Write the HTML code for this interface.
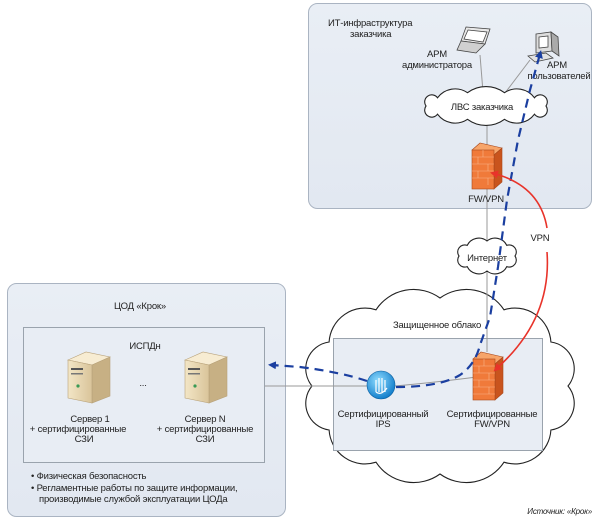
<!DOCTYPE html>
<html><head><meta charset="utf-8"><style>
html,body{margin:0;padding:0;background:#fff}
svg{display:block}
text{font-family:"Liberation Sans Narrow","Liberation Sans",sans-serif;font-size:9.5px;letter-spacing:-0.2px;fill:#222}
</style></head><body>
<svg width="600" height="522" viewBox="0 0 600 522" xmlns="http://www.w3.org/2000/svg">
<defs>
<linearGradient id="bg" x1="0" y1="0" x2="0" y2="1"><stop offset="0" stop-color="#e9eef5"/><stop offset="1" stop-color="#e2e8f1"/></linearGradient>
<linearGradient id="srv" x1="0" y1="0" x2="1" y2="0"><stop offset="0" stop-color="#f3e6c6"/><stop offset="1" stop-color="#d9c49a"/></linearGradient>
<radialGradient id="ips" cx="0.4" cy="0.35" r="0.7"><stop offset="0" stop-color="#8fdcff"/><stop offset="1" stop-color="#0a78c8"/></radialGradient>
<marker id="ab" markerWidth="8" markerHeight="8" refX="4" refY="4" orient="auto" markerUnits="userSpaceOnUse"><path d="M0,0 L8,4 L0,8 Z" fill="#1b3fa0"/></marker>
<marker id="ar" markerWidth="8" markerHeight="8" refX="6" refY="4" orient="auto" markerUnits="userSpaceOnUse"><path d="M0,0 L8,4 L0,8 Z" fill="#e8332a"/></marker>
</defs>

<rect x="308.5" y="3.5" width="283" height="205" rx="9" fill="url(#bg)" stroke="#aab4c2"/>
<text x="328" y="26">ИТ-инфраструктура</text>
<text x="350" y="37">заказчика</text>

<rect x="7.5" y="283.5" width="278" height="233" rx="9" fill="url(#bg)" stroke="#aab4c2"/>
<text x="140" y="309" text-anchor="middle">ЦОД «Крок»</text>
<rect x="23.5" y="327.5" width="241" height="135" fill="#e8edf4" stroke="#9aa3ad"/>
<text x="145" y="349" text-anchor="middle">ИСПДн</text>
<text x="143" y="386" text-anchor="middle">...</text>

<g id="s1">
<path d="M68,360 L86,352 L110,357 L92,365 Z" fill="#f7ecd2" stroke="#b8a27a" stroke-width="0.6"/>
<path d="M92,365 L110,357 L110,396 L92,403 Z" fill="#c7b084" stroke="#b8a27a" stroke-width="0.6"/>
<path d="M68,360 L92,365 L92,403 L68,398 Z" fill="url(#srv)" stroke="#b8a27a" stroke-width="0.6"/>
<rect x="71" y="368" width="12" height="2" fill="#555"/><rect x="71" y="373" width="12" height="1.5" fill="#777"/>
<circle cx="78" cy="386" r="1.6" fill="#3a9a55"/>
</g>
<use href="#s1" transform="translate(117,0)"/>
<text x="90" y="422" text-anchor="middle">Сервер 1</text>
<text x="78" y="432" text-anchor="middle">+ сертифицированные</text>
<text x="84" y="442" text-anchor="middle">СЗИ</text>
<text x="205" y="422" text-anchor="middle">Сервер N</text>
<text x="205" y="432" text-anchor="middle">+ сертифицированные</text>
<text x="205" y="442" text-anchor="middle">СЗИ</text>
<text x="31" y="479">• Физическая безопасность</text>
<text x="31" y="491">• Регламентные работы по защите информации,</text>
<text x="39" y="502">производимые службой эксплуатации ЦОДа</text>

<path d="M568,386 A27,27 0 0 0 550.9,342 A36,36 0 0 0 504,309.8 A45,45 0 0 0 440,298 A45,45 0 0 0 376,309.8 A36,36 0 0 0 329.1,342 A27,27 0 0 0 312,386 A27,27 0 0 0 329.1,430 A36,36 0 0 0 376,462.2 A45,45 0 0 0 440,474 A45,45 0 0 0 504,462.2 A36,36 0 0 0 550.9,430 A27,27 0 0 0 568,386 Z" fill="#fff" stroke="#222" stroke-width="1.1"/>
<text x="437" y="328" text-anchor="middle">Защищенное облако</text>
<rect x="333.5" y="338.5" width="209" height="112" fill="#e8edf4" stroke="#9aa3ad"/>

<g stroke="#999" stroke-width="1" fill="none">
<line x1="480" y1="55" x2="483" y2="92"/>
<line x1="530" y1="60" x2="505" y2="93"/>
<line x1="487" y1="120" x2="487" y2="148"/>
<line x1="487" y1="188" x2="487" y2="241"/>
<line x1="487" y1="271" x2="487" y2="352"/>
<line x1="265" y1="386" x2="368" y2="386"/>
<path d="M395,386 Q440,382 492,375"/>
</g>

<path d="M546,106 A7,7 0 0 0 534.5,97.8 A22,22 0 0 0 504.5,92.7 A31,31 0 0 0 467.5,92.7 A22,22 0 0 0 437.5,97.8 A7,7 0 0 0 426,106 A7,7 0 0 0 437.5,114.2 A22,22 0 0 0 467.5,119.3 A31,31 0 0 0 504.5,119.3 A22,22 0 0 0 534.5,114.2 A7,7 0 0 0 546,106 Z" fill="#fff" stroke="#222" stroke-width="1.1"/>
<text x="482" y="110" text-anchor="middle">ЛВС заказчика</text>

<path d="M515,256 A7,7 0 0 0 506.8,245.4 A13,13 0 0 0 487,241 A13,13 0 0 0 467.2,245.4 A7,7 0 0 0 459,256 A7,7 0 0 0 467.2,266.6 A13,13 0 0 0 487,271 A13,13 0 0 0 506.8,266.6 A7,7 0 0 0 515,256 Z" fill="#fff" stroke="#222" stroke-width="1.1"/>
<text x="487" y="261" text-anchor="middle">Интернет</text>

<g stroke="#444" stroke-width="0.8">
<path d="M466,27 L490,29 L485,44 L461,41 Z" fill="#e8e8e8"/>
<path d="M468,30 L487,32 L483,42 L464,39 Z" fill="#fff"/>
<path d="M461,41 L485,44 L476,53 L457,50 Z" fill="#d0d0d0"/>
</g>
<text x="437" y="57" text-anchor="middle">АРМ</text>
<text x="437" y="68" text-anchor="middle">администратора</text>
<g stroke="#444" stroke-width="0.8">
<path d="M536,34 L551,32 L552,51 L536,53 Z" fill="#ddd"/>
<path d="M539,37 L548,36 L548,47 L539,48 Z" fill="#fff"/>
<path d="M551,32 L558,37 L559,56 L552,51 Z" fill="#aaa"/>
<path d="M528,56 L546,53 L553,58 L535,62 Z" fill="#e2e2e2"/>
</g>
<text x="557" y="68" text-anchor="middle">АРМ</text>
<text x="559" y="79" text-anchor="middle">пользователей</text>

<g>
<path d="M472,150 L480,143 L502,148 L494,155 Z" fill="#f7a56a" stroke="#a8481c" stroke-width="0.6"/>
<path d="M494,155 L502,148 L502,182 L494,189 Z" fill="#c9541d" stroke="#a8481c" stroke-width="0.6"/>
<rect x="472" y="150" width="22" height="39" fill="#f07a3a" stroke="#a8481c" stroke-width="0.6"/>
<g stroke="#f9b489" stroke-width="0.6"><line x1="472" y1="157" x2="494" y2="157"/><line x1="472" y1="164" x2="494" y2="164"/><line x1="472" y1="171" x2="494" y2="171"/><line x1="472" y1="178" x2="494" y2="178"/><line x1="483" y1="150" x2="483" y2="157"/><line x1="478" y1="157" x2="478" y2="164"/><line x1="488" y1="164" x2="488" y2="171"/><line x1="478" y1="171" x2="478" y2="178"/><line x1="488" y1="178" x2="488" y2="185"/></g>
</g>
<text x="486" y="202" text-anchor="middle">FW/VPN</text>

<g>
<path d="M473,359 L481,352 L503,357 L495,364 Z" fill="#f7a56a" stroke="#a8481c" stroke-width="0.6"/>
<path d="M495,364 L503,357 L503,393 L495,400 Z" fill="#c9541d" stroke="#a8481c" stroke-width="0.6"/>
<rect x="473" y="359" width="22" height="41" fill="#f07a3a" stroke="#a8481c" stroke-width="0.6"/>
<g stroke="#f9b489" stroke-width="0.6"><line x1="473" y1="366" x2="495" y2="366"/><line x1="473" y1="373" x2="495" y2="373"/><line x1="473" y1="380" x2="495" y2="380"/><line x1="473" y1="387" x2="495" y2="387"/><line x1="473" y1="394" x2="495" y2="394"/><line x1="484" y1="359" x2="484" y2="366"/><line x1="479" y1="366" x2="479" y2="373"/><line x1="489" y1="373" x2="489" y2="380"/><line x1="479" y1="380" x2="479" y2="387"/><line x1="489" y1="387" x2="489" y2="394"/></g>
</g>

<circle cx="381" cy="385" r="14" fill="url(#ips)" stroke="#0a5fa0" stroke-width="0.6"/>
<path d="M376,392 L376,380 M379,392 L379,378 M382,392 L382,378 M385,392 L385,380 M376,392 Q381,396 387,388" stroke="#fff" stroke-width="1.2" fill="none"/>
<text x="383" y="417" text-anchor="middle">Сертифицированный</text>
<text x="383" y="427" text-anchor="middle">IPS</text>
<text x="492" y="417" text-anchor="middle">Сертифицированные</text>
<text x="492" y="427" text-anchor="middle">FW/VPN</text>

<path d="M396,387 Q440,387 460,375 Q475,365 480,345 L490,317 L498,267 L507,200 L518,140 L530,90 L540,54" stroke="#1b3fa0" stroke-width="2.2" fill="none" stroke-dasharray="9,6" marker-end="url(#ab)"/>
<path d="M367,381 Q340,372 300,367 L272,365" stroke="#1b3fa0" stroke-width="2.2" fill="none" stroke-dasharray="9,6" marker-end="url(#ab)"/>

<path d="M547,228 Q540,185 492,173" stroke="#e8332a" stroke-width="1.6" fill="none" marker-end="url(#ar)"/>
<path d="M547,252 Q552,320 495,370" stroke="#e8332a" stroke-width="1.6" fill="none" marker-end="url(#ar)"/>
<text x="540" y="241" text-anchor="middle">VPN</text>

<text x="592" y="514" text-anchor="end" style="font-size:8px;font-style:italic">Источник: «Крок»</text>
</svg>
</body></html>
